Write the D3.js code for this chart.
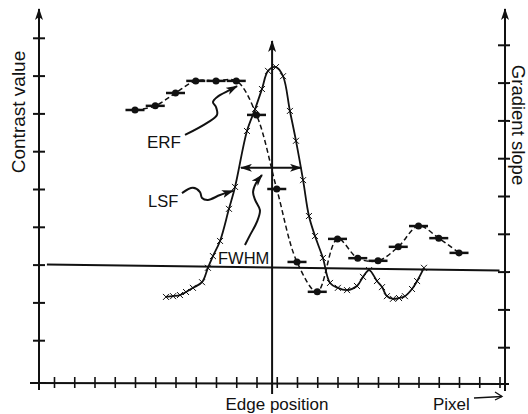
<!DOCTYPE html>
<html>
<head>
<meta charset="utf-8">
<script src="https://cdn.jsdelivr.net/npm/d3@7"></script>
<style>
  body { margin: 0; background: #fff; }
  svg { display: block; font-family: "Liberation Sans", Arial, Helvetica, sans-serif; }
</style>
</head>
<body>
<svg id="chart"></svg>
<script>
// ===============================
// Data
// ===============================
const pixelTicks = d3.range(0, 23);          // unlabelled pixel ticks
const contrastTicks = d3.range(1, 10);
const slopeTicks = d3.range(1, 10);
const edgePos = 10.77;                        // edge position in pixel units
const baseLevel = 3;                          // horizontal reference line

// ERF: edge response (contrast value, left axis)
const erfPixel    = [4, 5, 6, 7, 8, 9, 10, 11, 12, 13, 14, 15, 16, 17, 18, 19, 20];
const erfContrast = [7.09, 7.20, 7.54, 7.86, 7.86, 7.86, 6.96, 5.00, 3.07, 2.28, 3.68, 3.17, 3.10, 3.47, 4.02, 3.70, 3.31];

// LSF: line spread (gradient slope, right axis)
const lsfPixel = [5.53, 5.88, 6.22, 6.52, 6.86, 7.31, 7.60, 7.85, 8.20, 8.64, 8.94, 9.53, 9.93,
                  10.27, 10.57, 10.96, 11.31, 11.65, 11.95, 12.30, 12.59, 12.89, 13.28, 13.63,
                  14.02, 14.47, 14.96, 15.26, 15.56, 15.95, 16.20, 16.44, 16.74, 17.04, 17.33,
                  17.68, 17.93, 18.27];
const lsfSlope = [2.33, 2.35, 2.38, 2.46, 2.57, 2.72, 3.10, 3.41, 3.81, 4.66, 5.24, 6.72, 7.30,
                  7.83, 8.31, 8.41, 8.17, 7.25, 6.46, 5.42, 4.47, 3.94, 3.36, 2.70,
                  2.57, 2.51, 2.62, 2.86, 3.04, 2.75, 2.59, 2.35, 2.28, 2.30, 2.35,
                  2.54, 2.75, 3.10];

// annotation pointers (pixel units, contrast units)
const erfPointer  = [[6.47, 6.43], [7.56, 6.75], [8.05, 6.96], [8.0, 7.17], [7.85, 7.30], [8.05, 7.43], [8.69, 7.62], [9.04, 7.72]];
const lsfPointer  = [[6.32, 4.89], [6.86, 5.03], [7.21, 4.92], [7.31, 4.76], [7.60, 4.71], [8.20, 4.84], [8.84, 4.95]];
const fwhmPointer = [[9.43, 3.52], [9.68, 3.78], [10.02, 4.13], [10.17, 4.44], [9.93, 4.71], [9.83, 4.92], [9.98, 5.16], [10.27, 5.37]];
const fwhmSpan    = [[9.23, 5.56], [12.20, 5.56]];

// ===============================
// Setup
// ===============================
const width = 528, height = 414;
const svg = d3.select("#chart").attr("width", width).attr("height", height);
svg.append("rect").attr("width", width).attr("height", height).attr("fill", "#fff");

const x = d3.scaleLinear().domain([0, 22]).range([54, 499.5]);
const yL = d3.scaleLinear().domain([0, 10]).range([378, 0]);
const yR = d3.scaleLinear().domain([0, 10]).range([385, 7]);

const axisY = 383, leftX = 39, rightX = 505;

// arrow marker
const defs = svg.append("defs");
defs.append("marker")
    .attr("id", "arrow")
    .attr("viewBox", "0 0 12 8")
    .attr("refX", 11).attr("refY", 4)
    .attr("markerWidth", 12).attr("markerHeight", 8)
    .attr("markerUnits", "userSpaceOnUse")
    .attr("orient", "auto-start-reverse")
    .append("path")
    .attr("d", "M0,0 L12,4 L0,8 L3,4 Z")
    .attr("fill", "#111");

const ink = "#111";

// ===============================
// Axes
// ===============================
function cleanAxis(g) {
    g.select(".domain").remove();
    g.selectAll(".tick line").attr("stroke", ink).attr("stroke-width", 2);
    g.selectAll(".tick text").remove();
}

// left axis
const gl = svg.append("g").attr("transform", `translate(${leftX},0)`)
    .call(d3.axisLeft(yL).tickValues(contrastTicks).tickSize(6));
cleanAxis(gl);
gl.selectAll(".tick line").attr("x1", 6);
svg.append("line")
    .attr("x1", leftX).attr("x2", leftX).attr("y1", 390).attr("y2", 9)
    .attr("stroke", ink).attr("stroke-width", 2).attr("marker-end", "url(#arrow)");

// right axis
const gr = svg.append("g").attr("transform", `translate(${rightX},0)`)
    .call(d3.axisRight(yR).tickValues(slopeTicks).tickSize(5));
cleanAxis(gr);
gr.selectAll(".tick line").attr("x1", -7);
svg.append("line")
    .attr("x1", rightX).attr("x2", rightX).attr("y1", 391).attr("y2", 9)
    .attr("stroke", ink).attr("stroke-width", 2).attr("marker-end", "url(#arrow)");

// bottom axis
const gb = svg.append("g").attr("transform", `translate(0,${axisY})`)
    .call(d3.axisBottom(x).tickValues(pixelTicks).tickSize(5));
cleanAxis(gb);
gb.selectAll(".tick line").attr("y1", -6).attr("stroke-width", 1.6);
svg.append("line")
    .attr("x1", 30).attr("x2", 509).attr("y1", axisY).attr("y2", axisY + 1)
    .attr("stroke", ink).attr("stroke-width", 2);

// edge position line
svg.append("line")
    .attr("x1", x(edgePos)).attr("x2", x(edgePos)).attr("y1", 394).attr("y2", 41)
    .attr("stroke", ink).attr("stroke-width", 2).attr("marker-end", "url(#arrow)");

// reference line
svg.append("line")
    .attr("x1", x(-0.35)).attr("y1", yL(baseLevel))
    .attr("x2", x(22)).attr("y2", yR(baseLevel) - 1)
    .attr("stroke", ink).attr("stroke-width", 2);

// ===============================
// LSF (solid with x marks)
// ===============================
const lsf = lsfPixel.map((p, i) => [p, lsfSlope[i]]);
svg.append("path")
    .datum(lsf)
    .attr("fill", "none")
    .attr("stroke", ink)
    .attr("stroke-width", 1.8)
    .attr("d", d3.line().x(d => x(d[0])).y(d => yR(d[1])).curve(d3.curveCatmullRom));

svg.selectAll("path.xmark")
    .data(lsf)
    .enter()
    .append("path")
    .attr("class", "xmark")
    .attr("transform", d => `translate(${x(d[0])},${yR(d[1])})`)
    .attr("d", "M-3,-3L3,3M-3,3L3,-3")
    .attr("stroke", ink)
    .attr("stroke-width", 1);

// ===============================
// ERF (dashed with dots and bars)
// ===============================
const erf = erfPixel.map((p, i) => [p, erfContrast[i]]);
svg.append("path")
    .datum(erf)
    .attr("fill", "none")
    .attr("stroke", ink)
    .attr("stroke-width", 1.5)
    .attr("stroke-dasharray", "5,3")
    .attr("d", d3.line().x(d => x(d[0])).y(d => yL(d[1])).curve(d3.curveCatmullRom));

svg.selectAll("line.bar")
    .data(erf)
    .enter()
    .append("line")
    .attr("class", "bar")
    .attr("x1", d => x(d[0] - 0.47)).attr("x2", d => x(d[0] + 0.47))
    .attr("y1", d => yL(d[1])).attr("y2", d => yL(d[1]))
    .attr("stroke", ink)
    .attr("stroke-width", 2.5);

svg.selectAll("circle.dot")
    .data(erf)
    .enter()
    .append("circle")
    .attr("class", "dot")
    .attr("cx", d => x(d[0]))
    .attr("cy", d => yL(d[1]))
    .attr("r", 3.5)
    .attr("fill", ink);

// ===============================
// Annotations
// ===============================
const pointer = d3.line().x(d => x(d[0])).y(d => yL(d[1])).curve(d3.curveCatmullRom);
[erfPointer, lsfPointer, fwhmPointer].forEach(pts => {
    svg.append("path")
        .datum(pts)
        .attr("fill", "none")
        .attr("stroke", ink)
        .attr("stroke-width", 2)
        .attr("marker-end", "url(#arrow)")
        .attr("d", pointer);
});

// FWHM double arrow
svg.append("line")
    .attr("x1", x(fwhmSpan[0][0])).attr("y1", yL(fwhmSpan[0][1]))
    .attr("x2", x(fwhmSpan[1][0])).attr("y2", yL(fwhmSpan[1][1]))
    .attr("stroke", ink).attr("stroke-width", 2)
    .attr("marker-start", "url(#arrow)")
    .attr("marker-end", "url(#arrow)");

// ===============================
// Text
// ===============================
const txt = (s, tx, ty, size, opts = {}) => svg.append("text")
    .attr("transform", `translate(${tx},${ty})` + (opts.rotate ? ` rotate(${opts.rotate})` : ""))
    .attr("text-anchor", opts.anchor || "start")
    .attr("font-size", size)
    .attr("fill", ink)
    .text(s);

txt("Contrast value", 25, 112, 19, { rotate: -90, anchor: "middle" });
txt("Gradient slope", 512, 125, 18.5, { rotate: 90, anchor: "middle" });
txt("Edge position", 277, 410, 17, { anchor: "middle" });
txt("Pixel", 433, 410, 17);
txt("ERF", 147, 148, 17);
txt("LSF", 148, 207, 16.5);
txt("FWHM", 218, 264, 16.5);

// pixel arrow
svg.append("line")
    .attr("x1", 474).attr("y1", 398).attr("x2", 502).attr("y2", 396.5)
    .attr("stroke", ink).attr("stroke-width", 1.3);
svg.append("path")
    .attr("d", "M495,392 L502,396.5 L495,400")
    .attr("fill", "none").attr("stroke", ink).attr("stroke-width", 1.3);
</script>
</body>
</html>
